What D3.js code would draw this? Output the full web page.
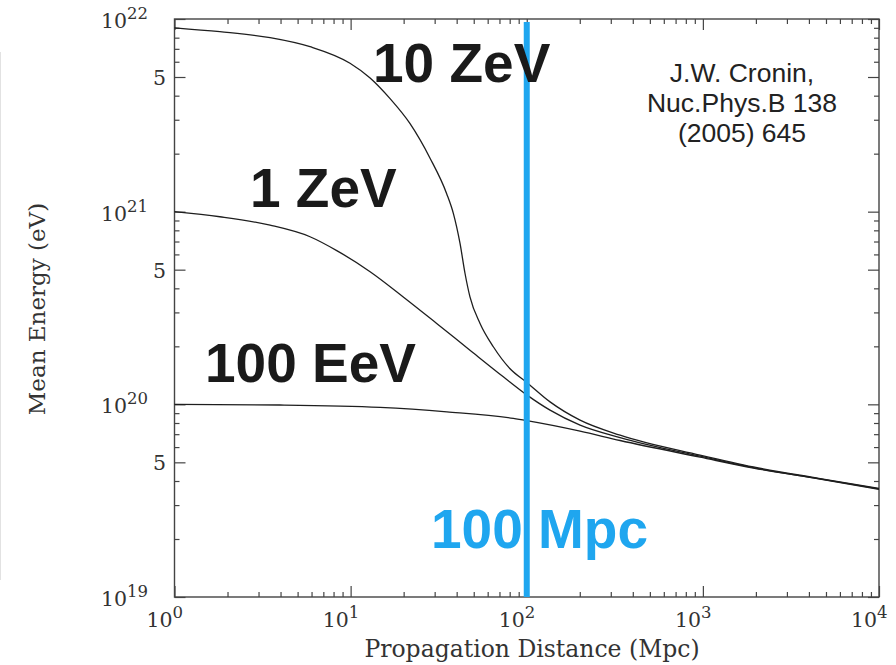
<!DOCTYPE html>
<html>
<head>
<meta charset="utf-8">
<script src="https://cdn.jsdelivr.net/npm/d3@7"></script>
<style>
  html, body { margin: 0; padding: 0; background: #fff; }
  svg { display: block; }
</style>
</head>
<body>
<svg id="chart" width="896" height="665"></svg>
<script>
// Mean energy of cosmic-ray protons versus propagation distance (Mpc)
const seriesLabels = ["10 ZeV", "1 ZeV", "100 EeV"];

const dist10ZeV = [1, 1.81, 3.49, 5.88, 9.92, 12.9, 16.7, 21.7, 28.2, 35.1, 38.3, 41.8, 44.6, 47.6, 54.3, 64.6, 80.4, 100, 135.6, 200.8, 339, 964, 1936, 4630, 10000];
const energy10ZeV = [9.0e21, 8.59e21, 8.0e21, 7.18e21, 5.89e21, 4.94e21, 3.87e21, 2.87e21, 1.90e21, 1.24e21, 9.8e20, 6.84e20, 4.79e20, 3.61e20, 2.63e20, 1.99e20, 1.53e20, 1.30e20, 1.03e20, 8.28e19, 6.92e19, 5.45e19, 4.73e19, 4.12e19, 3.66e19];

const dist1ZeV = [1, 1.81, 3.49, 5.88, 8.34, 12.9, 19.9, 30.8, 47.6, 73.6, 100, 135.6, 200.8, 339, 964, 1936, 4630, 10000];
const energy1ZeV = [1e21, 9.41e20, 8.51e20, 7.41e20, 6.28e20, 4.88e20, 3.61e20, 2.63e20, 1.91e20, 1.39e20, 1.12e20, 9.33e19, 7.80e19, 6.72e19, 5.38e19, 4.69e19, 4.10e19, 3.64e19];

const dist100EeV = [1, 3.97, 14.7, 35.2, 83.9, 100, 200.8, 339, 964, 1936, 4630, 10000];
const energy100EeV = [1e20, 9.92e19, 9.64e19, 9.14e19, 8.45e19, 8.23e19, 7.26e19, 6.49e19, 5.32e19, 4.67e19, 4.09e19, 3.62e19];

// axis ticks
const xDecades = [1, 10, 100, 1000, 10000];
const xExponents = ["0", "1", "2", "3", "4"];
const yDecades = [1e19, 1e20, 1e21, 1e22];
const yExponents = ["19", "20", "21", "22"];
const yFives = [5e19, 5e20, 5e21];
const yFiveLabel = "5";

const markerDistance = 100;
const markerLabel = "100 Mpc";
const citationLines = ["J.W. Cronin,", "Nuc.Phys.B 138", "(2005) 645"];
const xTitle = "Propagation Distance (Mpc)";
const yTitle = "Mean Energy (eV)";

const plotLeft = 174.5, plotRight = 879, plotTop = 19, plotBottom = 597;
const blue = "#1fa6ef";

const svg = d3.select("#chart");

const x = d3.scaleLog().domain([1, 1e4]).range([plotLeft, plotRight]);
const y = d3.scaleLog().domain([1e19, 1e22]).range([plotBottom, plotTop]);

// faint edge line on the far left
svg.append("line").attr("x1", 0.5).attr("x2", 0.5).attr("y1", 52).attr("y2", 580)
  .attr("stroke", "#e2e2e2").attr("stroke-width", 1);

// minor tick values
const xMinor = [];
for (let e = 0; e < 4; e++) for (let k = 2; k <= 9; k++) xMinor.push(k * Math.pow(10, e));
const yMinor = [];
for (let e = 19; e < 22; e++) for (let k = 2; k <= 9; k++) if (k !== 5) yMinor.push(k * Math.pow(10, e));
const yMajor = yDecades.concat(yFives);

function styleAxis(g) {
  g.select(".domain").remove();
  g.selectAll("line").attr("stroke", "#444").attr("stroke-width", 1.2);
  g.selectAll("text").remove();
}

const majorLen = 11, minorLen = 5;
// bottom / top
svg.append("g").attr("transform", `translate(0,${plotBottom})`)
  .call(d3.axisBottom(x).tickValues(xDecades).tickSize(-majorLen).tickSizeOuter(0)).call(styleAxis);
svg.append("g").attr("transform", `translate(0,${plotBottom})`)
  .call(d3.axisBottom(x).tickValues(xMinor).tickSize(-minorLen).tickSizeOuter(0)).call(styleAxis);
svg.append("g").attr("transform", `translate(0,${plotTop})`)
  .call(d3.axisTop(x).tickValues(xDecades).tickSize(-majorLen).tickSizeOuter(0)).call(styleAxis);
svg.append("g").attr("transform", `translate(0,${plotTop})`)
  .call(d3.axisTop(x).tickValues(xMinor).tickSize(-minorLen).tickSizeOuter(0)).call(styleAxis);
// left / right
svg.append("g").attr("transform", `translate(${plotLeft},0)`)
  .call(d3.axisLeft(y).tickValues(yMajor).tickSize(-majorLen).tickSizeOuter(0)).call(styleAxis);
svg.append("g").attr("transform", `translate(${plotLeft},0)`)
  .call(d3.axisLeft(y).tickValues(yMinor).tickSize(-minorLen).tickSizeOuter(0)).call(styleAxis);
svg.append("g").attr("transform", `translate(${plotRight},0)`)
  .call(d3.axisRight(y).tickValues(yMajor).tickSize(-majorLen).tickSizeOuter(0)).call(styleAxis);
svg.append("g").attr("transform", `translate(${plotRight},0)`)
  .call(d3.axisRight(y).tickValues(yMinor).tickSize(-minorLen).tickSizeOuter(0)).call(styleAxis);

// frame
svg.append("rect").attr("x", plotLeft).attr("y", plotTop)
  .attr("width", plotRight - plotLeft).attr("height", plotBottom - plotTop)
  .attr("fill", "none").attr("stroke", "#444").attr("stroke-width", 1.4);

// tick labels
const tickFont = "'DejaVu Serif', serif";
const xl = svg.append("g").attr("font-family", tickFont).attr("fill", "#333");
xDecades.forEach((d, i) => {
  const t = xl.append("text").attr("x", x(d) - 28).attr("y", 627).attr("font-size", 20.5);
  t.append("tspan").text("10");
  t.append("tspan").attr("dy", -9).attr("font-size", 16.5).text(xExponents[i]);
});
const yl = svg.append("g").attr("font-family", tickFont).attr("fill", "#333");
yDecades.forEach((d, i) => {
  const t = yl.append("text").attr("x", 101).attr("y", y(d) + 9).attr("font-size", 20.5);
  t.append("tspan").text("10");
  t.append("tspan").attr("dy", -9).attr("font-size", 16.5).text(yExponents[i]);
});
yFives.forEach(d => {
  yl.append("text").attr("x", 166).attr("y", y(d) + 8).attr("text-anchor", "end")
    .attr("font-size", 20.5).text(yFiveLabel);
});

// axis titles
svg.append("text").attr("x", 532).attr("y", 657).attr("text-anchor", "middle")
  .attr("font-family", tickFont).attr("font-size", 23.5).attr("fill", "#333").text(xTitle);
svg.append("text").attr("transform", `translate(45,309) rotate(-90)`).attr("text-anchor", "middle")
  .attr("font-family", tickFont).attr("font-size", 23).attr("fill", "#333").text(yTitle);

// energy curves
const line = d3.line().x(p => x(p[0])).y(p => y(p[1])).curve(d3.curveMonotoneX);
const series = [
  d3.zip(dist10ZeV, energy10ZeV),
  d3.zip(dist1ZeV, energy1ZeV),
  d3.zip(dist100EeV, energy100EeV)
];
svg.append("g").selectAll("path").data(series).join("path")
  .attr("d", line).attr("fill", "none").attr("stroke", "#1e1e1e").attr("stroke-width", 1.3);

// 100 Mpc marker
svg.append("line").attr("x1", x(markerDistance)).attr("x2", x(markerDistance))
  .attr("y1", plotTop + 3).attr("y2", plotBottom).attr("stroke", blue).attr("stroke-width", 6);
svg.append("text").attr("x", 431).attr("y", 548).attr("font-family", "'Liberation Sans', Arial, sans-serif")
  .attr("font-weight", "bold").attr("font-size", 55).attr("fill", blue).text(markerLabel);

// curve labels
const labelPos = [[373, 82], [250, 207], [205, 382]];
svg.append("g").selectAll("text").data(seriesLabels).join("text")
  .attr("x", (d, i) => labelPos[i][0]).attr("y", (d, i) => labelPos[i][1])
  .attr("font-family", "'Liberation Sans', Arial, sans-serif").attr("font-weight", "bold")
  .attr("font-size", 55).attr("fill", "#1a1a1a").text(d => d);

// citation, three centred lines
svg.append("g").selectAll("text").data(citationLines).join("text")
  .attr("x", 742).attr("y", (d, i) => 82 + i * 29.8).attr("text-anchor", "middle")
  .attr("font-family", "'Liberation Sans', Arial, sans-serif").attr("font-size", 26.5)
  .attr("fill", "#222").text(d => d);
</script>
</body>
</html>
